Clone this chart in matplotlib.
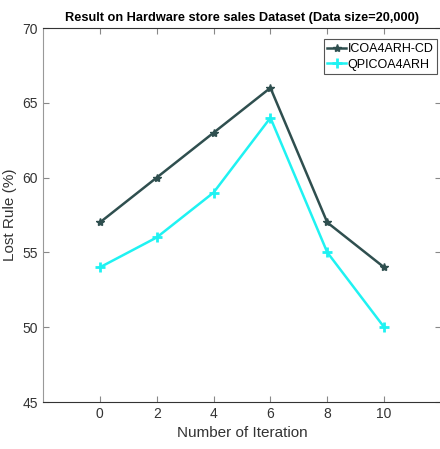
import matplotlib.pyplot as plt

iterations = [0, 2, 4, 6, 8, 10]
icoa_cd = [57, 60, 63, 66, 57, 54]
qpicoa = [54, 56, 59, 64, 55, 50]
x_ticks = [0, 2, 4, 6, 8, 10]
y_ticks = [45, 50, 55, 60, 65, 70]

plt.rcParams['font.family'] = ['Liberation Sans', 'DejaVu Sans']

fig = plt.figure(figsize=(4.4, 4.49), dpi=100)
ax = fig.add_axes([43 / 440, 1 - 402 / 449, 398 / 440, 374 / 449])

ax.plot(iterations, icoa_cd, color='#2f4f4f', linewidth=1.8, marker='*', markersize=6,
        label='ICOA4ARH-CD')
ax.plot(iterations, qpicoa, color='#1ff2f2', linewidth=1.8, marker='+', markersize=7,
        markeredgewidth=2, label='QPICOA4ARH')

ax.set_xlim(-2, 12)
ax.set_ylim(45, 70)
ax.set_xticks(x_ticks)
ax.set_yticks(y_ticks)
ax.tick_params(direction='in', length=4, color='#888888', labelcolor='#333333',
               labelsize=10, top=True, right=True)
for side in ['left', 'bottom', 'top', 'right']:
    ax.spines[side].set_color('#999999')
ax.spines['bottom'].set_color('#333333')
ax.spines['top'].set_color('#333333')

ax.set_xlabel('Number of Iteration', fontsize=11, color='#333333')
ax.set_ylabel('Lost Rule (%)', fontsize=11, color='#333333')
ax.set_title('Result on Hardware store sales Dataset (Data size=20,000)',
             fontsize=9.2, fontweight='bold', pad=5)

leg = ax.legend(loc='upper right', bbox_to_anchor=(0.99, 0.97), fontsize=9,
                handlelength=1.5, handletextpad=0.1, borderpad=0.3,
                labelspacing=0.3, fancybox=False, framealpha=1, borderaxespad=0)
leg.get_frame().set_edgecolor('#555555')
leg.get_frame().set_linewidth(0.8)

fig.savefig('out.png', dpi=100)
